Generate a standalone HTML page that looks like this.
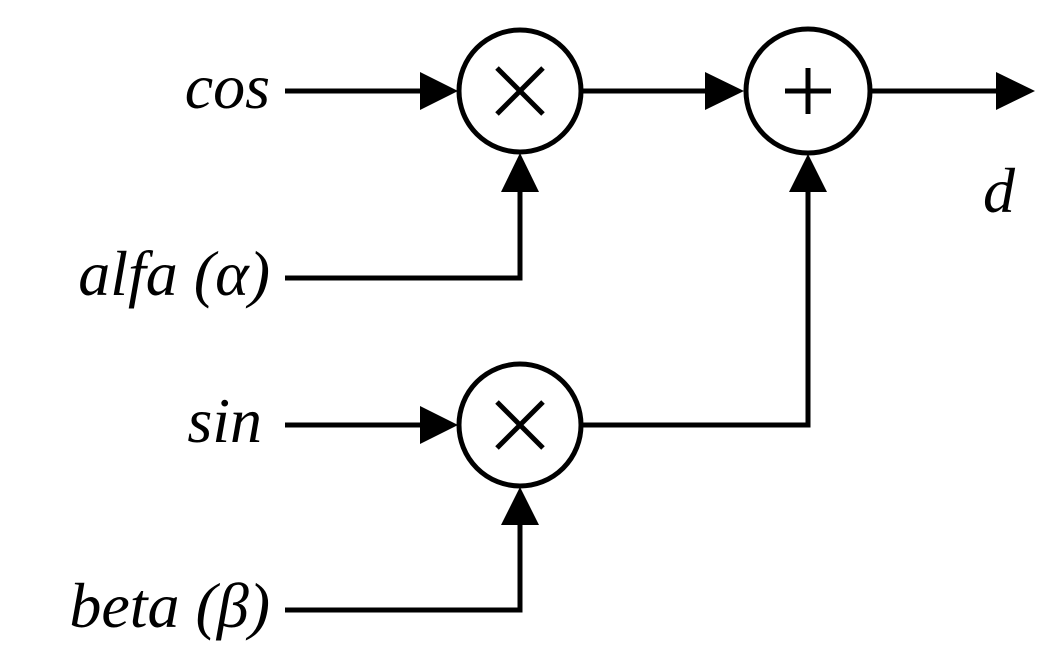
<!DOCTYPE html>
<html><head><style>body{margin:0;background:#fff}svg{display:block}</style></head><body>
<svg width="1060" height="666" viewBox="0 0 1060 666" xmlns="http://www.w3.org/2000/svg">
<g stroke="#000" stroke-width="5" fill="none">
<circle cx="520" cy="91" r="61"/>
<circle cx="808" cy="91" r="62"/>
<circle cx="520" cy="425" r="61"/>
<path d="M497 68L543 114M543 68L497 114"/>
<path d="M497 402L543 448M543 402L497 448"/>
<path d="M785 91H831M808 68V114"/>
<path d="M285 91H425"/>
<path d="M581 91H710"/>
<path d="M870 91H1000"/>
<path d="M285 278H520V190"/>
<path d="M285 425H425"/>
<path d="M285 610H520V522"/>
<path d="M581 425H808V190"/>
</g>
<g fill="#000">
<path d="M420 72L458 91L420 110Z"/>
<path d="M705 72L744 91L705 110Z"/>
<path d="M996 72L1035 91L996 110Z"/>
<path d="M420 406L458 425L420 444Z"/>
<path d="M501 192L520 153L539 192Z"/>
<path d="M789 192L808 154L827 192Z"/>
<path d="M501 525L520 487L539 525Z"/>
</g>
<g font-family="Liberation Serif, serif" font-style="italic" font-size="64" fill="#000" text-anchor="end">
<text x="270" y="108">cos</text>
<text x="270" y="295">alfa (α)</text>
<text x="262" y="442">sin</text>
<text x="270" y="627">beta (β)</text>
<text x="1015" y="212">d</text>
</g>
</svg>
</body></html>
